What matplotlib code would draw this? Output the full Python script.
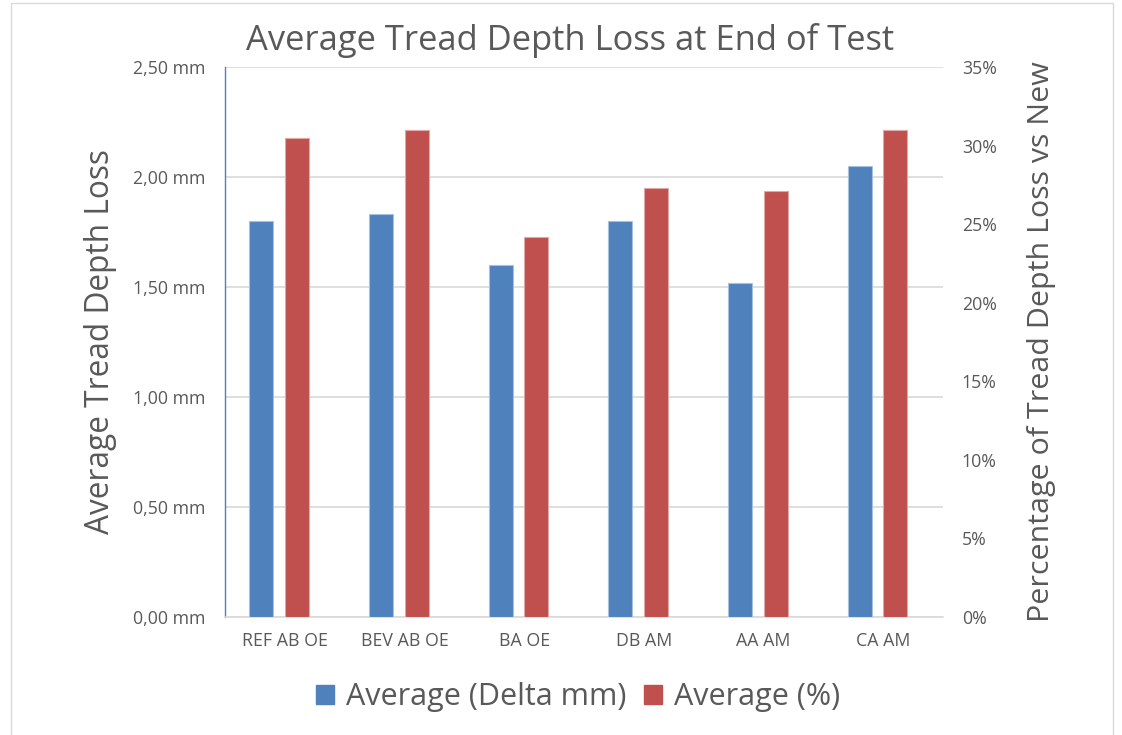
import matplotlib
matplotlib.use("Agg")
import matplotlib.pyplot as plt
from matplotlib.patches import Patch, Rectangle
from matplotlib.ticker import FuncFormatter, MultipleLocator

categories = ["REF AB OE", "BEV AB OE", "BA OE", "DB AM", "AA AM", "CA AM"]
delta_mm = [1.80, 1.83, 1.60, 1.80, 1.52, 2.05]
pct = [30.5, 31.0, 24.2, 27.3, 27.1, 31.0]
series_names = ["Average (Delta mm)", "Average (%)"]
title = "Average Tread Depth Loss at End of Test"
ylabel_left = "Average Tread Depth Loss"
ylabel_right = "Percentage of Tread Depth Loss vs New"

BLUE = "#4F81BD"
RED = "#C0504D"
GRID = "#D9D9D9"
TXT = "#595959"

plt.rcParams['font.family'] = ['Open Sans', 'DejaVu Sans']

W, H = 1122, 735
fig = plt.figure(figsize=(W / 100, H / 100), dpi=100)
fig.patch.set_facecolor("white")

ax = fig.add_axes([225 / W, 1 - 617 / H, (943 - 225) / W, (617 - 67) / H])
ax2 = ax.twinx()

x = list(range(len(categories)))
bw = 0.2
ax.bar([i - 0.196 for i in x], delta_mm, width=bw, color=BLUE,
       edgecolor="#A7C0DE", linewidth=0.8, zorder=3)
ax2.bar([i + 0.102 for i in x], pct, width=bw, color=RED,
        edgecolor="#DFA8A6", linewidth=0.8, zorder=3)

ax.set_xlim(-0.5, len(categories) - 0.5)
ax.set_ylim(0, 2.5)
ax2.set_ylim(0, 35)
ax.yaxis.set_major_locator(MultipleLocator(0.5))
ax2.yaxis.set_major_locator(MultipleLocator(5))
ax.yaxis.set_major_formatter(FuncFormatter(lambda v, p: f"{v:.2f} mm".replace(".", ",")))
ax2.yaxis.set_major_formatter(FuncFormatter(lambda v, p: f"{v:.0f}%"))

ax.set_xticks(x)
ax.set_xticklabels(categories)
ax.grid(axis="y", color=GRID, linewidth=1.2, zorder=0)
ax.set_axisbelow(True)

TS = 12.8
for a in (ax, ax2):
    a.tick_params(length=0, colors=TXT, labelsize=TS)
    for s in ("top", "right", "left", "bottom"):
        a.spines[s].set_visible(False)
ax.spines["left"].set_visible(True)
ax.spines["left"].set_color(BLUE)
ax.spines["left"].set_linewidth(1.0)
ax.spines["bottom"].set_visible(True)
ax.spines["bottom"].set_color(GRID)
ax.spines["bottom"].set_linewidth(1.2)

ax.tick_params(axis="y", pad=14)
ax2.tick_params(axis="y", pad=13.5)
ax.tick_params(axis="x", pad=11)
ax2.tick_params(axis="x", length=0)

ax.set_ylabel(ylabel_left, fontsize=22.8, color=TXT, labelpad=12)
ax2.set_ylabel(ylabel_right, fontsize=21.9, color=TXT, labelpad=22)

fig.text(570 / W, 1 - 40 / H, title, fontsize=24.8, color=TXT, ha="center", va="center")

handles = [Patch(facecolor=BLUE, edgecolor=BLUE), Patch(facecolor=RED, edgecolor=RED)]
fig.legend(handles, series_names, loc="center", bbox_to_anchor=(578 / W, 1 - 697 / H),
           ncol=2, frameon=False, fontsize=22, labelcolor=TXT,
           handlelength=0.6, handleheight=0.6, handletextpad=0.4, columnspacing=0.55)

fig.patches.append(Rectangle((11 / W, -0.01), (1113 - 11) / W, 1.01 - 3 / H,
                             transform=fig.transFigure, fill=False,
                             edgecolor=GRID, linewidth=1.0))

fig.savefig("out.png", dpi=100)
